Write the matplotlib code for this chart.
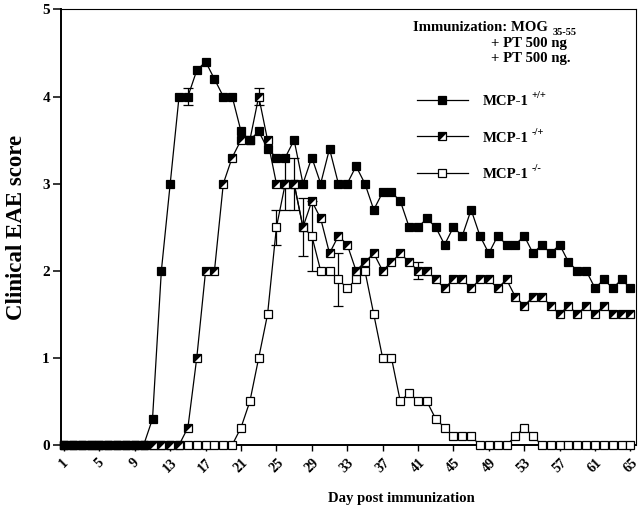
import matplotlib
matplotlib.use('Agg')
import matplotlib.pyplot as plt
from matplotlib.markers import MarkerStyle
from matplotlib.transforms import Affine2D
import numpy as np

# ---------------- data ----------------
days = list(range(1, 66))

wt = [0, 0, 0, 0, 0, 0, 0, 0, 0, 0,
      0.3, 2.0, 3.0, 4.0, 4.0, 4.3, 4.4, 4.2, 4.0, 4.0,
      3.6, 3.5, 3.6, 3.4, 3.3, 3.3, 3.5, 3.0, 3.3, 3.0,
      3.4, 3.0, 3.0, 3.2, 3.0, 2.7, 2.9, 2.9, 2.8, 2.5,
      2.5, 2.6, 2.5, 2.3, 2.5, 2.4, 2.7, 2.4, 2.2, 2.4,
      2.3, 2.3, 2.4, 2.2, 2.3, 2.2, 2.3, 2.1, 2.0, 2.0,
      1.8, 1.9, 1.8, 1.9, 1.8]

het = [0, 0, 0, 0, 0, 0, 0, 0, 0, 0,
       0, 0, 0, 0, 0.2, 1.0, 2.0, 2.0, 3.0, 3.3,
       3.5, 3.5, 4.0, 3.5, 3.0, 3.0, 3.0, 2.5, 2.8, 2.6,
       2.2, 2.4, 2.3, 2.0, 2.1, 2.2, 2.0, 2.1, 2.2, 2.1,
       2.0, 2.0, 1.9, 1.8, 1.9, 1.9, 1.8, 1.9, 1.9, 1.8,
       1.9, 1.7, 1.6, 1.7, 1.7, 1.6, 1.5, 1.6, 1.5, 1.6,
       1.5, 1.6, 1.5, 1.5, 1.5]

ko = [0, 0, 0, 0, 0, 0, 0, 0, 0, 0,
      0, 0, 0, 0, 0, 0, 0, 0, 0, 0,
      0.2, 0.5, 1.0, 1.5, 2.5, 3.0, 3.0, 2.5, 2.4, 2.0,
      2.0, 1.9, 1.8, 1.9, 2.0, 1.5, 1.0, 1.0, 0.5, 0.6,
      0.5, 0.5, 0.3, 0.2, 0.1, 0.1, 0.1, 0, 0, 0,
      0, 0.1, 0.2, 0.1, 0, 0, 0, 0, 0, 0,
      0, 0, 0, 0, 0]

# error bars (day, sem)
wt_err_days = [15]
wt_err = [0.1]
het_err_days = [23, 41]
het_err = [0.1, 0.1]
ko_err_days = [25, 26, 27, 28, 29, 32]
ko_err = [0.2, 0.3, 0.3, 0.33, 0.4, 0.3]

xticks = list(range(1, 66, 4))
yticks = [0, 1, 2, 3, 4, 5]
labels = ['MCP-1', 'MCP-1', 'MCP-1']
sups = ['+/+', '-/+', '-/-']

# ---------------- style ----------------
plt.rcParams['font.family'] = ['Liberation Serif', 'DejaVu Serif']
plt.rcParams['font.weight'] = 'bold'

W, H = 640, 509
fig = plt.figure(figsize=(W / 100, H / 100), dpi=100)
ax = fig.add_axes([61 / W, 1 - 445 / H, (636 - 61) / W, (445 - 9.4) / H])

lw = 0.9
ms = 5.6
mew = 0.9

def vals_at(series, dlist):
    return [series[days.index(d)] for d in dlist]

common_err = dict(fmt='none', ecolor='black', elinewidth=lw, capsize=3.5, capthick=lw, zorder=2)
ax.errorbar(ko_err_days, vals_at(ko, ko_err_days), yerr=ko_err, **common_err)
ax.errorbar(het_err_days, vals_at(het, het_err_days), yerr=het_err, **common_err)
ax.errorbar(wt_err_days, vals_at(wt, wt_err_days), yerr=wt_err, **common_err)

half = MarkerStyle('D', fillstyle='left', transform=Affine2D().rotate_deg(-45))

l_ko, = ax.plot(days, ko, color='black', lw=lw, marker='s', ms=ms,
                mfc='white', mec='black', mew=mew, zorder=3, clip_on=False)
l_het, = ax.plot(days, het, color='black', lw=lw, marker=half, ms=ms,
                 mfc='black', mfcalt='white', mec='black', mew=mew, zorder=4, clip_on=False)
l_wt, = ax.plot(days, wt, color='black', lw=lw, marker='s', ms=ms,
                mfc='black', mec='black', mew=mew, zorder=5, clip_on=False)

ax.set_xlim(0.66, 65.63)
ax.set_ylim(0, 5)
ax.set_xticks(xticks)
ax.set_xticklabels([str(t) for t in xticks], rotation=45, ha='center',
                   fontsize=10, fontweight='bold')
ax.set_yticks(yticks)
ax.set_yticklabels([str(t) for t in yticks], fontsize=11, fontweight='bold')
ax.tick_params(axis='y', direction='out', length=6, width=1.1, pad=2)
ax.tick_params(axis='x', direction='out', length=4, width=1.0, pad=4)

for s in ['left', 'bottom']:
    ax.spines[s].set_linewidth(1.4)
for s in ['top', 'right']:
    ax.spines[s].set_linewidth(0.8)

ax.set_ylabel('Clinical EAE score', fontsize=16.5, fontweight='bold')
ax.yaxis.set_label_coords((27 - 61) / 575, 0.5)
ax.set_xlabel('Day post immunization', fontsize=10.6, fontweight='bold')
ax.xaxis.set_label_coords((401 - 61) / 575, (445 - 492) / 435.6)

# annotation text
fig.text(413 / W, 1 - 31 / H, 'Immunization: MOG', fontsize=10.6,
         fontweight='bold', ha='left', va='baseline')
fig.text(553 / W, 1 - 35 / H, '35-55', fontsize=7.5,
         fontweight='bold', ha='left', va='baseline')
fig.text(491 / W, 1 - 47 / H, '+ PT 500 ng', fontsize=10.6,
         fontweight='bold', ha='left', va='baseline')
fig.text(491 / W, 1 - 62 / H, '+ PT 500 ng.', fontsize=10.6,
         fontweight='bold', ha='left', va='baseline')

leg = ax.legend([l_wt, l_het, l_ko], labels, loc='upper left',
                bbox_to_anchor=(417 / W, 1 - 95 / H), bbox_transform=fig.transFigure,
                frameon=False, borderpad=0, borderaxespad=0, numpoints=1,
                handlelength=3.45, handletextpad=1.0, labelspacing=1.56,
                prop={'family': ['Liberation Serif'], 'weight': 'bold', 'size': 10.6})

fig.canvas.draw()
inv = fig.transFigure.inverted()
for t, sp in zip(leg.get_texts(), sups):
    bb = t.get_window_extent()
    x, y = inv.transform((bb.x1 + 3, bb.y1 - 3))
    fig.text(x, y, sp, fontsize=7.5, fontweight='bold', ha='left', va='baseline')

fig.savefig('out.png', dpi=100)
